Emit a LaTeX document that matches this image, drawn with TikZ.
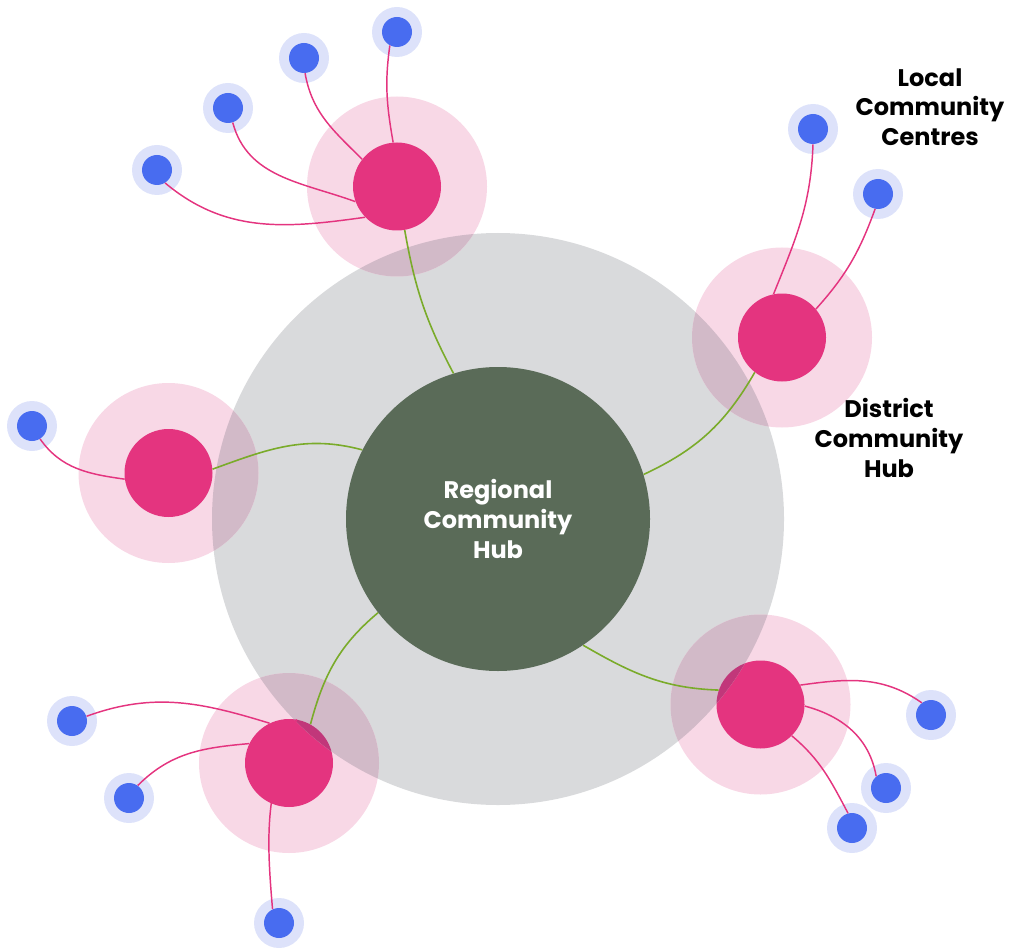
\documentclass[tikz,border=0pt]{standalone}
\usepackage{fontspec}
\setmainfont{Poppins}
\definecolor{ringgrey}{HTML}{D9DADC}
\definecolor{corehub}{HTML}{5A6B58}
\definecolor{hubpink}{HTML}{E4347F}
\definecolor{halopink}{HTML}{F8D8E6}
\definecolor{overlaphalo}{HTML}{D2BAC8}
\definecolor{overlapcore}{HTML}{C1377A}
\definecolor{dotblue}{HTML}{486CF0}
\definecolor{haloblue}{HTML}{DDE2FA}
\definecolor{linkgreen}{HTML}{7AAB2A}
\begin{document}
\begin{tikzpicture}[x=0.75pt,y=-0.75pt,
  hubhalo/.style={circle, fill=halopink, inner sep=0pt, minimum size=135pt},
  hubcore/.style={circle, fill=hubpink, inner sep=0pt, minimum size=66pt},
  lochalo/.style={circle, fill=haloblue, inner sep=0pt, minimum size=37.5pt},
  loccore/.style={circle, fill=dotblue, inner sep=0pt, minimum size=22.5pt},
  trunk/.style={draw=linkgreen, line width=1.2pt},
  branch/.style={draw=hubpink, line width=1.1pt},
  caption/.style={font=\bfseries\fontsize{18}{22.2}\selectfont, align=center}]
\useasboundingbox (0,0) rectangle (1012,948);

% outer grey ring of the region
\node[circle, fill=ringgrey, inner sep=0pt, minimum size=429pt] (ring) at (498,519) {};

% district hubs: halo and core
\foreach \n/\p in {hubT/{(397,186.5)}, hubR/{(782,337.5)}, hubL/{(168.5,473)},
                    hubB/{(289,763)}, hubE/{(760.5,704.5)}} {
  \node[hubhalo] (\n h) at \p {};
  \node[hubcore] (\n) at \p {};
}

% where hubs lie on the grey ring, the colours darken
\begin{scope}
  \clip (ring.center) circle[radius=214.5pt];
  \foreach \h in {hubT,hubR,hubL,hubB,hubE}
    \fill[overlaphalo] (\h.center) circle[radius=67.5pt];
  \foreach \h in {hubB,hubE}
    \fill[overlapcore] (\h.center) circle[radius=33pt];
\end{scope}

% regional hub
\node[circle, fill=corehub, inner sep=0pt, minimum size=228pt, text=white, caption] (core) at (498,519)
  {Regional\\Community\\Hub};

% local community centres
\foreach \n/\p in {la/{(397,32)}, lb/{(304,58)}, lc/{(228,108)}, ld/{(157,170)},
                    le/{(813,129)}, lf/{(878,194)},
                    lg/{(32,426)},
                    lh/{(72,721)}, li/{(129,798)}, lj/{(279,923)},
                    lk/{(931,715)}, ll/{(886,788)}, lm/{(852,828)}} {
  \node[lochalo] (\n h) at \p {};
  \node[loccore] (\n) at \p {};
}

% links from the regional hub to the district hubs
\draw[trunk] (core.107.7) to[out=118, in=280] (hubT.280);
\draw[trunk] (core.17.5) to[out=25, in=240] (hubR.232);
\draw[trunk] (core.153) to[out=165, in=20] (hubL.5);
\draw[trunk] (core.218) to[out=220, in=75] (hubB.61);
\draw[trunk] (core.304.6) to[out=-30, in=178] (hubE.161);

% links from district hubs to local centres
\draw[branch] (la.242) to[out=262, in=100] (hubT.95);
\draw[branch] (lb.274) to[out=-80, in=135] (hubT.142);
\draw[branch] (lc.288) to[out=-75, in=160] (hubT.200);
\draw[branch] (ld.302) to[out=-40, in=188] (hubT.224.5);

\draw[branch] (le.270) to[out=268, in=68] (hubR.101.7);
\draw[branch] (lf.259) to[out=250, in=48] (hubR.40);

\draw[branch] (lg.302) to[out=-55, in=172] (hubL.188);

\draw[branch] (lh.18) to[out=20, in=163] (hubB.116.6);
\draw[branch] (li.55) to[out=45, in=185] (hubB.154);
\draw[branch] (lj.115) to[out=95, in=245] (hubB.80);

\draw[branch] (lk.127) to[out=145, in=8] (hubE.26);
\draw[branch] (ll.130) to[out=100, in=-15] (hubE.-2);
\draw[branch] (lm.105) to[out=118, in=-40] (hubE.-45);

% captions
\node[caption] (capLocal) at (930,107) {Local\\Community\\Centres};
\node[caption] (capDistrict) at (889,438) {District\\Community\\Hub};
\end{tikzpicture}
\end{document}
